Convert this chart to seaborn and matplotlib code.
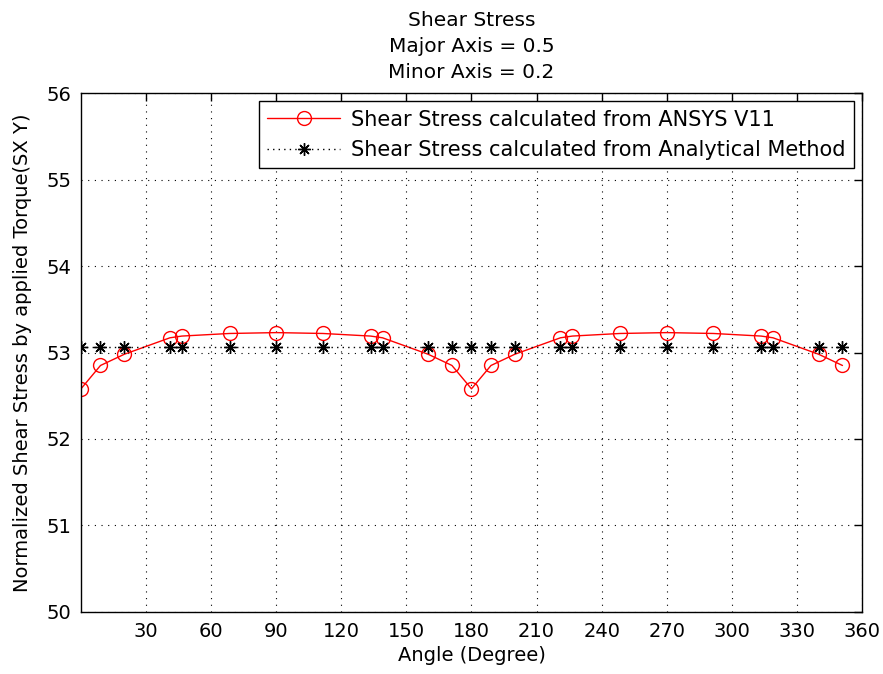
import matplotlib
matplotlib.use("Agg")
import matplotlib.pyplot as plt
import seaborn as sns
import pandas as pd

angles = [0, 9, 20, 41, 46.5, 68.5, 90, 111.5, 133.5, 139, 160, 171, 180,
          189, 200, 221, 226.5, 248.5, 270, 291.5, 313.5, 319, 340, 351]
ansys = [52.58, 52.85, 52.98, 53.17, 53.19, 53.22, 53.23, 53.22, 53.19, 53.17,
         52.98, 52.85, 52.58, 52.85, 52.98, 53.17, 53.19, 53.22, 53.23, 53.22,
         53.19, 53.17, 52.98, 52.85]
analytical = [53.06] * len(angles)
xticks = [30, 60, 90, 120, 150, 180, 210, 240, 270, 300, 330, 360]
yticks = [50, 51, 52, 53, 54, 55, 56]

df = pd.DataFrame({"angle": angles, "ansys": ansys, "analytical": analytical})

sns.set_style("white")
plt.rcParams["font.family"] = ["DejaVu Sans"]
plt.rcParams["text.color"] = "black"
plt.rcParams["axes.labelcolor"] = "black"

fig = plt.figure(figsize=(8.83, 6.74), dpi=100)
ax = fig.add_axes([0.0917, 0.092, 0.8845, 0.770])

sns.lineplot(data=df, x="angle", y="ansys", ax=ax, color="red", lw=1,
             marker="o", markersize=10, markerfacecolor="none",
             markeredgecolor="red", markeredgewidth=1,
             label="Shear Stress calculated from ANSYS V11")
sns.lineplot(data=df, x="angle", y="analytical", ax=ax, color="black", lw=1,
             linestyle=(0, (1, 3)), marker=(8, 2, 0), markersize=9,
             markeredgecolor="black", markeredgewidth=1,
             label="Shear Stress calculated from Analytical Method")

ax.set_xlim(0, 360)
ax.set_ylim(50, 56)
ax.set_xticks(xticks)
ax.set_yticks(yticks)
ax.grid(True, color="black", linestyle=(0, (1, 5)), lw=0.8)
for s in ax.spines.values():
    s.set_color("black")
    s.set_linewidth(1)
ax.tick_params(direction="in", length=6, width=1, top=True, right=True,
               labelsize=14, colors="black", pad=7)

ax.set_title("Shear Stress\nMajor Axis = 0.5\nMinor Axis = 0.2", fontsize=14.5,
             linespacing=1.45, pad=11, color="black")
ax.set_xlabel("Angle (Degree)", fontsize=14, labelpad=4)
ax.set_ylabel("Normalized Shear Stress by applied Torque(SX Y)", fontsize=14,
              labelpad=10)

leg = ax.legend(loc="upper right", fontsize=15, frameon=True, fancybox=False,
                borderaxespad=0.4, handlelength=3.5, handletextpad=0.5,
                framealpha=1, borderpad=0.4)
leg.get_frame().set_edgecolor("black")
leg.get_frame().set_linewidth(1)

fig.savefig("out.png", dpi=100)
